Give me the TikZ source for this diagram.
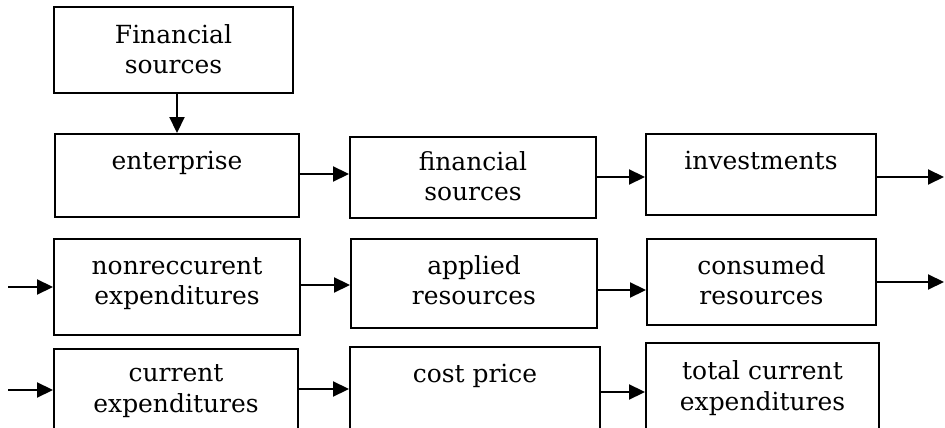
\documentclass[tikz,border=0pt]{standalone}
\usepackage{fontspec}
\setmainfont{DejaVu Serif}
\usetikzlibrary{arrows.meta,fit}

\tikzset{
  blk/.style={draw, line width=1.1pt, inner sep=0pt, fit={#1}},
  % anchored on the baseline of the last line
  lbl/.style={anchor=base, align=center, inner sep=0pt,
    font=\fontsize{14.2}{17.4}\selectfont},
  flow/.style={-{Triangle[length=0.32cm,width=0.3cm]}, line width=1.1pt},
}

\begin{document}
\begin{tikzpicture}[x=0.02cm, y=-0.02cm]
  \clip (0,0) rectangle (945,428);
  % boxes, given by their corners
  \node[blk={(54,7) (293,93)}] (fs) {};
  \node[blk={(55,134) (299,217)}] (ent) {};
  \node[blk={(350,137) (596,218)}] (src) {};
  \node[blk={(646,134) (876,215)}] (inv) {};
  \node[blk={(54,239) (300,335)}] (nonrec) {};
  \node[blk={(351,239) (597,328)}] (appl) {};
  \node[blk={(647,239) (876,325)}] (cons) {};
  \node[blk={(54,349) (298,470)}] (cur) {};
  \node[blk={(350,347) (600,470)}] (cost) {};
  \node[blk={(646,343) (879,470)}] (tot) {};
  % texts
  \node[lbl] (fs-t) at (fs.north |- 0,74) {Financial\\sources};
  \node[lbl] (ent-t) at (ent.north |- 0,170) {enterprise};
  \node[lbl] (src-t) at (src.north |- 0,201) {financial\\sources};
  \node[lbl] (inv-t) at (inv.north |- 0,170) {investments};
  \node[lbl] (nonrec-t) at (nonrec.north |- 0,305) {nonreccurent\\expenditures};
  \node[lbl] (appl-t) at (appl.north |- 0,305) {applied\\resources};
  \node[lbl] (cons-t) at (cons.north |- 0,305) {consumed\\resources};
  \node[lbl] (cur-t) at (cur.north |- 0,412) {current\\expenditures};
  \node[lbl] (cost-t) at (cost.north |- 0,382) {cost price};
  \node[lbl] (tot-t) at (tot.north |- 0,410) {total current\\expenditures};
  % loose ends
  \coordinate (out1) at (944,177);
  \coordinate (in2) at (8,287);
  \coordinate (out2) at (944,282);
  \coordinate (in3) at (8,390);
  % arrows
  \draw[flow] (fs.south -| ent.north) -- (ent.north);
  \draw[flow] (ent.east |- 0,174) -- (src.west |- 0,174);
  \draw[flow] (src.east |- 0,177) -- (inv.west |- 0,177);
  \draw[flow] (inv.east |- out1) -- (out1);
  \draw[flow] (in2) -- (nonrec.west |- in2);
  \draw[flow] (nonrec.east |- 0,285) -- (appl.west |- 0,285);
  \draw[flow] (appl.east |- 0,290) -- (cons.west |- 0,290);
  \draw[flow] (cons.east |- out2) -- (out2);
  \draw[flow] (in3) -- (cur.west |- in3);
  \draw[flow] (cur.east |- 0,389) -- (cost.west |- 0,389);
  \draw[flow] (cost.east |- 0,392) -- (tot.west |- 0,392);
\end{tikzpicture}
\end{document}
